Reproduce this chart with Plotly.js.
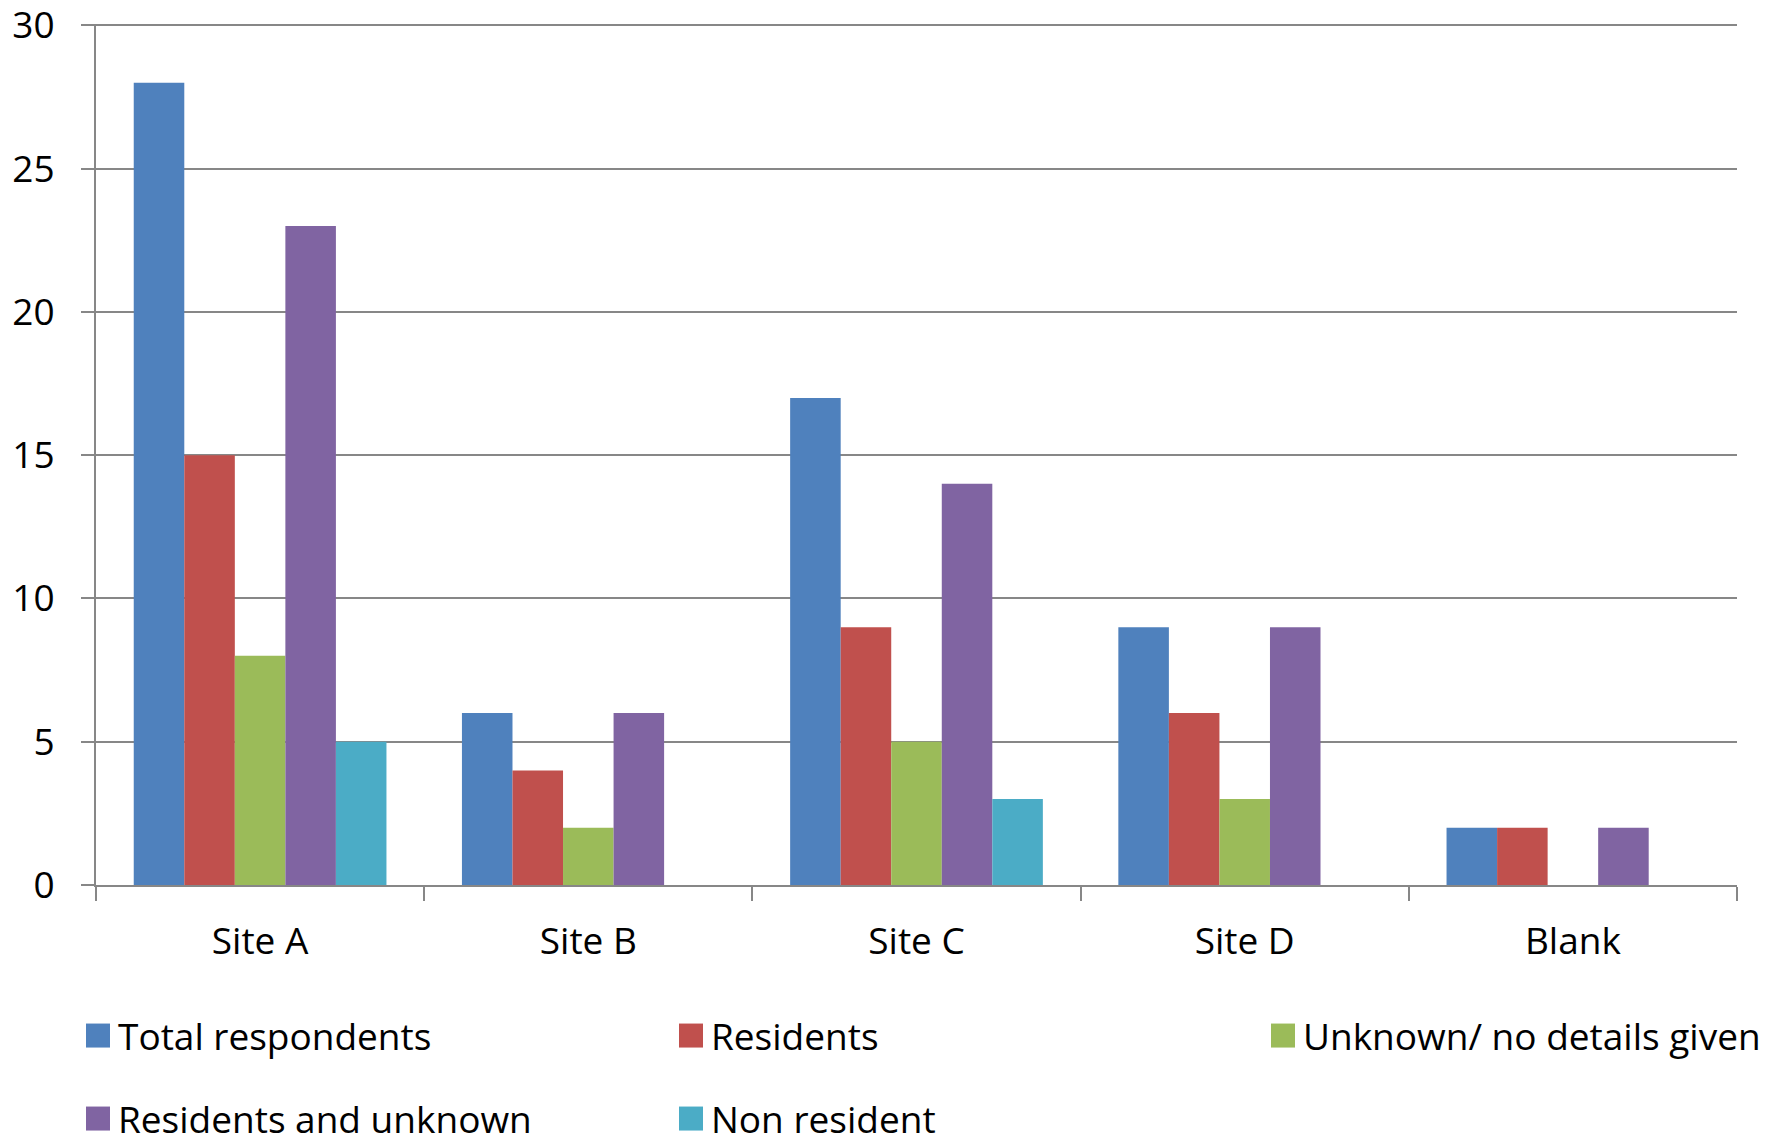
<!DOCTYPE html>
<html>
<head>
<meta charset="utf-8">
<script src="https://cdn.plot.ly/plotly-3.0.1.min.js"></script>
<style>
html, body { margin: 0; padding: 0; background: #fff; }
#chart { width: 1783px; height: 1144px; }
</style>
</head>
<body>
<div id="chart"></div>
<script>
const categories = ["Site A", "Site B", "Site C", "Site D", "Blank"];
const seriesNames = ["Total respondents", "Residents", "Unknown/ no details given", "Residents and unknown", "Non resident"];
const totalRespondents = [28, 6, 17, 9, 2];
const residents = [15, 4, 9, 6, 2];
const unknownNoDetails = [8, 2, 5, 3, 0];
const residentsAndUnknown = [23, 6, 14, 9, 2];
const nonResident = [5, 0, 3, 0, 0];
const yTickVals = [0, 5, 10, 15, 20, 25, 30];

const colors = ["#4F81BD", "#C0504D", "#9BBB59", "#8064A2", "#4BACC6"];
const values = [totalRespondents, residents, unknownNoDetails, residentsAndUnknown, nonResident];
const legendIds = ["legend", "legend2", "legend3", "legend4", "legend5"];

const fontFamily = "'Open Sans', sans-serif";
const gray = "#878787";

const traces = values.map((v, i) => ({
  type: "bar",
  name: seriesNames[i],
  x: categories,
  y: v,
  marker: { color: colors[i], line: { width: 0 } },
  legend: legendIds[i],
  hoverinfo: "none"
}));

const W = 1783, H = 1144;
const mL = 96, mR = W - 1737, mT = 24, mB = H - 885;
const pw = W - mL - mR, ph = H - mT - mB;
const px = (X) => (X - mL) / pw;
const py = (Y) => (H - mB - Y) / ph;

function leg(xPix, yPix) {
  return {
    x: px(xPix), y: py(yPix), xanchor: "left", yanchor: "middle",
    orientation: "h", bgcolor: "rgba(0,0,0,0)", borderwidth: 0,
    font: { family: fontFamily, size: 37, color: "#000" }
  };
}

const layout = {
  width: W, height: H,
  margin: { l: mL, r: mR, t: mT, b: mB, pad: 0, autoexpand: false },
  paper_bgcolor: "#fff", plot_bgcolor: "#fff",
  barmode: "group",
  bargap: 0.23,
  bargroupgap: 0,
  showlegend: true,
  legend: leg(78, 1036),
  legend2: leg(671, 1036),
  legend3: leg(1263, 1036),
  legend4: leg(78, 1119),
  legend5: leg(671, 1119),
  xaxis: {
    type: "category",
    tickson: "boundaries",
    ticks: "outside", ticklen: 14, tickwidth: 2, tickcolor: gray,
    showline: true, linecolor: gray, linewidth: 2,
    showgrid: false, zeroline: false,
    tickfont: { family: fontFamily, size: 37, color: "#000" },
    ticklabelstandoff: 23,
    ticklabeloverflow: "allow"
  },
  yaxis: {
    range: [0, 30.05],
    tickvals: yTickVals,
    ticks: "outside", ticklen: 13, tickwidth: 2, tickcolor: gray,
    showline: true, linecolor: gray, linewidth: 2,
    showgrid: true, gridcolor: gray, gridwidth: 2,
    zeroline: false,
    tickfont: { family: fontFamily, size: 37, color: "#000" },
    ticklabelstandoff: 19,
    ticklabeloverflow: "allow"
  }
};

Plotly.newPlot("chart", traces, layout, { staticPlot: true, displayModeBar: false }).then(() => {
  document.querySelectorAll("#chart g.legendpoints path").forEach(p => {
    p.setAttribute("d", "M12,12H-12V-12H12Z");
  });
});
</script>
</body>
</html>
